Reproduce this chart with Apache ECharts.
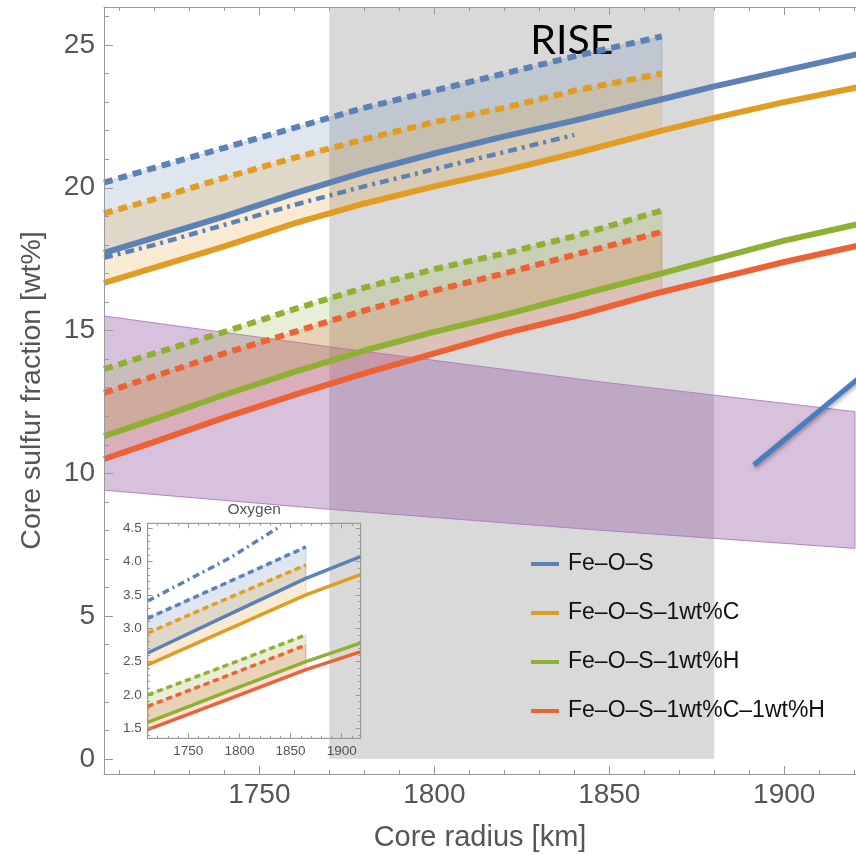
<!DOCTYPE html>
<html>
<head>
<meta charset="utf-8">
<script src="https://cdn.jsdelivr.net/npm/echarts@6/dist/echarts.min.js"></script>
<style>
html,body{margin:0;padding:0;background:#fff;}
#chart{width:856px;height:855px;}
</style>
</head>
<body>
<div id="chart"></div>
<script>
// ---------- DATA ----------
// Main panel: core radius (km)
const radiusFull  = [1705.6, 1720, 1740, 1760, 1780, 1800, 1820, 1840, 1865, 1880, 1900, 1921];
const radiusShort = [1705.6, 1720, 1740, 1760, 1780, 1800, 1820, 1840, 1865];
const radiusDashDot = [1705.6, 1720, 1740, 1760, 1780, 1800, 1820, 1840];

// Solid lines (full range), wt% S
const feoS      = [17.72, 18.25, 19.0, 19.8, 20.55, 21.2, 21.8, 22.35, 23.1, 23.55, 24.1, 24.68];
const feoSC     = [16.67, 17.2, 17.95, 18.75, 19.45, 20.05, 20.6, 21.2, 22.0, 22.45, 23.0, 23.52];
const feoSH     = [11.3, 11.9, 12.75, 13.55, 14.3, 14.95, 15.55, 16.2, 17.0, 17.5, 18.15, 18.72];
const feoSCH    = [10.5, 11.1, 11.95, 12.75, 13.5, 14.2, 14.9, 15.5, 16.35, 16.8, 17.4, 17.97];
// Dashed upper bounds (to 1865 km)
const feoSUp    = [20.18, 20.7, 21.4, 22.1, 22.8, 23.4, 24.0, 24.6, 25.3];
const feoSCUp   = [19.1, 19.6, 20.35, 21.05, 21.7, 22.3, 22.8, 23.4, 24.0];
const feoSHUp   = [13.65, 14.2, 14.95, 15.75, 16.5, 17.15, 17.7, 18.3, 19.2];
const feoSCHUp  = [12.82, 13.4, 14.2, 14.95, 15.7, 16.4, 17.0, 17.65, 18.45];
// Dash-dot (Fe-O-S)
const feoSDashDot = [17.55, 18.0, 18.7, 19.4, 20.05, 20.65, 21.25, 21.85];

// Purple constraint band
const purpleX      = [1705.6, 1770, 1847, 1920.2];
const purpleTop    = [15.51, 14.43, 13.21, 12.16];
const purpleBottom = [9.41, 8.74, 8.01, 7.37];

// Blue constraint segment
const segmentX = [1891.3, 1921];
const segmentY = [10.29, 13.3];

// RISE band
const riseRadius = [1770, 1880];
const riseSulfur = [0, 26.33];

// Axis ticks
const mainXTicks = [1750, 1800, 1850, 1900];
const mainXMinor = [1710,1720,1730,1740,1760,1770,1780,1790,1810,1820,1830,1840,1860,1870,1880,1890,1910,1920];
const mainYTicks = [0, 5, 10, 15, 20, 25];
const mainYMinor = [1,2,3,4,6,7,8,9,11,12,13,14,16,17,18,19,21,22,23,24,26];

// Inset (Oxygen)
const insetRadius      = [1710.3, 1790, 1865, 1919];
const insetRadiusShort = [1710.3, 1790, 1865];
const insetRadiusDD    = [1710.3, 1790, 1837];
const insetO     = [2.63, 3.21, 3.75, 4.08];
const insetOC    = [2.45, 2.99, 3.50, 3.81];
const insetOH    = [1.59, 2.06, 2.50, 2.78];
const insetOCH   = [1.48, 1.94, 2.38, 2.65];
const insetOUp   = [3.15, 3.70, 4.22];
const insetOCUp  = [2.93, 3.46, 3.95];
const insetOHUp  = [2.00, 2.46, 2.90];
const insetOCHUp = [1.83, 2.30, 2.75];
const insetODashDot = [3.41, 4.05, 4.5];
const insetXTicks = [1750, 1800, 1850, 1900];
const insetXMinor = [1720,1730,1740,1760,1770,1780,1790,1810,1820,1830,1840,1860,1870,1880,1890,1910];
const insetYTicks = [1.5, 2.0, 2.5, 3.0, 3.5, 4.0, 4.5];
const insetYMinor = [1.4,1.6,1.7,1.8,1.9,2.1,2.2,2.3,2.4,2.6,2.7,2.8,2.9,3.1,3.2,3.3,3.4,3.6,3.7,3.8,3.9,4.1,4.2,4.3,4.4];

const names = ['Fe\u2013O\u2013S', 'Fe\u2013O\u2013S\u20131wt%C', 'Fe\u2013O\u2013S\u20131wt%H', 'Fe\u2013O\u2013S\u20131wt%C\u20131wt%H'];
const colors = ['#5e81b5', '#e19c24', '#8fb032', '#eb6235'];

// ---------- CHART ----------
const FONT = "'Liberation Sans', Arial, Helvetica, sans-serif";
const AX = '#999';
const LBL = '#555';
const XMIN = 1705.6, XMAX = 1920.5, YMIN = -0.53, YMAX = 26.33;
const IXMIN = 1710.3, IXMAX = 1918.6, IYMIN = 1.35, IYMAX = 4.575;

function pairs(xs, ys) { return ys.map((y, i) => [xs[i], y]); }

function lineS(name, xs, ys, color, type, width, xi, yi, z) {
  return {
    type: 'line', name: name, data: pairs(xs, ys), xAxisIndex: xi, yAxisIndex: yi,
    showSymbol: false, symbol: 'none', silent: true, clip: true, z: z,
    lineStyle: { color: color, width: width, type: type, cap: 'butt', join: 'round' },
    itemStyle: { color: color }, emphasis: { disabled: true }
  };
}

function bandS(xs, lower, upper, fill, stroke, xi, yi, z) {
  return {
    type: 'custom', xAxisIndex: xi, yAxisIndex: yi, z: z, silent: true, clip: true,
    data: [[xs[0], lower[0]]],
    renderItem: function (params, api) {
      const pts = [];
      for (let i = 0; i < xs.length; i++) pts.push(api.coord([xs[i], upper[i]]));
      for (let i = xs.length - 1; i >= 0; i--) pts.push(api.coord([xs[i], lower[i]]));
      return { type: 'polygon', shape: { points: pts }, style: { fill: fill, stroke: stroke, lineWidth: 1 } };
    }
  };
}

function hexA(hex, a) {
  const r = parseInt(hex.slice(1, 3), 16), g = parseInt(hex.slice(3, 5), 16), b = parseInt(hex.slice(5, 7), 16);
  return 'rgba(' + r + ',' + g + ',' + b + ',' + a + ')';
}

const tickAxis = (grid, pos, min, max, ticks, len, showLine) => ({
  type: 'value', gridIndex: grid, position: pos, min: min, max: max, z: 20,
  axisLine: { show: showLine, onZero: false, lineStyle: { color: AX, width: 1 } },
  axisTick: { show: true, inside: true, length: len, customValues: ticks, lineStyle: { color: AX, width: 1 } },
  axisLabel: { show: false }, splitLine: { show: false }
});

const plain = v => String(v);

const xAxes = [
  {
    type: 'value', gridIndex: 0, position: 'bottom', min: XMIN, max: XMAX, z: 20,
    axisLine: { show: true, onZero: false, lineStyle: { color: AX, width: 1 } },
    axisTick: { show: true, inside: true, length: 8, customValues: mainXTicks, lineStyle: { color: AX } },
    axisLabel: { show: true, customValues: mainXTicks, formatter: plain, fontSize: 28, color: LBL, fontFamily: FONT, margin: 7 },
    splitLine: { show: false },
    name: 'Core radius [km]', nameLocation: 'middle', nameGap: 49,
    nameTextStyle: { fontSize: 29, color: LBL, fontFamily: FONT }
  },
  tickAxis(0, 'bottom', XMIN, XMAX, mainXMinor, 4, false),
  tickAxis(0, 'top', XMIN, XMAX, mainXTicks, 8, true),
  tickAxis(0, 'top', XMIN, XMAX, mainXMinor, 4, false),
  {
    type: 'value', gridIndex: 1, position: 'bottom', min: IXMIN, max: IXMAX, z: 20,
    axisLine: { show: true, onZero: false, lineStyle: { color: AX, width: 1 } },
    axisTick: { show: true, inside: true, length: 5, customValues: insetXTicks, lineStyle: { color: AX } },
    axisLabel: { show: true, customValues: insetXTicks, formatter: plain, fontSize: 13.5, color: LBL, fontFamily: FONT, margin: 6 },
    splitLine: { show: false }
  },
  tickAxis(1, 'bottom', IXMIN, IXMAX, insetXMinor, 2.5, false),
  Object.assign(tickAxis(1, 'top', IXMIN, IXMAX, insetXTicks, 5, true), {
    name: 'Oxygen', nameLocation: 'middle', nameGap: 6,
    nameTextStyle: { fontSize: 15.5, color: LBL, fontFamily: FONT }
  }),
  tickAxis(1, 'top', IXMIN, IXMAX, insetXMinor, 2.5, false)
];

const yAxes = [
  {
    type: 'value', gridIndex: 0, position: 'left', min: YMIN, max: YMAX, z: 20,
    axisLine: { show: true, onZero: false, lineStyle: { color: AX, width: 1 } },
    axisTick: { show: true, inside: true, length: 9, customValues: mainYTicks, lineStyle: { color: AX } },
    axisLabel: { show: true, customValues: mainYTicks, formatter: plain, fontSize: 28, color: LBL, fontFamily: FONT, margin: 9 },
    splitLine: { show: false },
    name: 'Core sulfur fraction [wt%]', nameLocation: 'middle', nameGap: 57, nameRotate: 90,
    nameTextStyle: { fontSize: 28.5, color: LBL, fontFamily: FONT }
  },
  tickAxis(0, 'left', YMIN, YMAX, mainYMinor, 5, false),
  {
    type: 'value', gridIndex: 1, position: 'left', min: IYMIN, max: IYMAX, z: 20,
    axisLine: { show: true, onZero: false, lineStyle: { color: AX, width: 1 } },
    axisTick: { show: true, inside: true, length: 5, customValues: insetYTicks, lineStyle: { color: AX } },
    axisLabel: { show: true, customValues: insetYTicks, fontSize: 13.5, color: LBL, fontFamily: FONT, margin: 6,
      formatter: v => Number(v).toFixed(1) },
    splitLine: { show: false }
  },
  tickAxis(1, 'left', IYMIN, IYMAX, insetYMinor, 2.5, false),
  tickAxis(1, 'right', IYMIN, IYMAX, insetYTicks, 5, true),
  tickAxis(1, 'right', IYMIN, IYMAX, insetYMinor, 2.5, false)
];

const series = [];

// RISE band (gray) with label
series.push({
  type: 'custom', xAxisIndex: 0, yAxisIndex: 0, z: 1, silent: true, clip: true,
  data: [[riseRadius[0], riseRadius[1], riseSulfur[0], riseSulfur[1]]],
  renderItem: function (params, api) {
    const p0 = api.coord([api.value(0), api.value(3)]);
    const p1 = api.coord([api.value(1), api.value(2)]);
    return {
      type: 'group', children: [
        { type: 'rect', shape: { x: p0[0], y: p0[1], width: p1[0] - p0[0], height: p1[1] - p0[1] },
          style: { fill: '#d9d9d9' } },
        { type: 'text', z2: 100, style: { text: 'RISE', x: (p0[0] + p1[0]) / 2 + 50, y: p0[1] + 34,
          fill: '#000', font: "41px Lato, 'Open Sans', sans-serif", align: 'center', verticalAlign: 'middle' } }
      ]
    };
  }
});

// Purple band
series.push(bandS(purpleX, purpleBottom, purpleTop, 'rgba(140,72,152,0.34)', 'rgba(175,120,195,0.9)', 0, 0, 2));

// Fill bands main
const mainSolid = [feoS, feoSC, feoSH, feoSCH];
const mainUp = [feoSUp, feoSCUp, feoSHUp, feoSCHUp];
for (let k = 0; k < 4; k++) {
  const n = radiusShort.length;
  series.push(bandS(radiusShort, mainSolid[k].slice(0, n), mainUp[k], hexA(colors[k], 0.2), hexA(colors[k], 0.3), 0, 0, 3));
}
// Solid lines
for (let k = 0; k < 4; k++) series.push(lineS(names[k], radiusFull, mainSolid[k], colors[k], 'solid', 6, 0, 0, 6));
// Dashed lines
for (let k = 0; k < 4; k++) series.push(lineS(names[k] + ' upper', radiusShort, mainUp[k], colors[k], [9, 6], 6, 0, 0, 5));
// Dash-dot
series.push(lineS('Fe-O-S dash-dot', radiusDashDot, feoSDashDot, colors[0], [9, 5, 3, 5], 4.5, 0, 0, 5));
// Blue segment
const seg = lineS('segment', segmentX, segmentY, '#4a7dc0', 'solid', 5, 0, 0, 7);
seg.lineStyle.shadowColor = 'rgba(0,0,0,0.35)';
seg.lineStyle.shadowBlur = 4;
seg.lineStyle.shadowOffsetX = 1;
seg.lineStyle.shadowOffsetY = 2;
series.push(seg);

// Inset
const insetSolid = [insetO, insetOC, insetOH, insetOCH];
const insetUp = [insetOUp, insetOCUp, insetOHUp, insetOCHUp];
for (let k = 0; k < 4; k++) {
  const n = insetRadiusShort.length;
  series.push(bandS(insetRadiusShort, insetSolid[k].slice(0, n), insetUp[k], hexA(colors[k], 0.2), hexA(colors[k], 0.3), 4, 2, 3));
}
for (let k = 0; k < 4; k++) series.push(lineS('inset ' + names[k], insetRadius, insetSolid[k], colors[k], 'solid', 3.5, 4, 2, 6));
for (let k = 0; k < 4; k++) series.push(lineS('inset up ' + names[k], insetRadiusShort, insetUp[k], colors[k], [6, 4], 3.5, 4, 2, 5));
series.push(lineS('inset dash-dot', insetRadiusDD, insetODashDot, colors[0], [7, 4, 2, 4], 3.5, 4, 2, 5));

const option = {
  animation: false,
  backgroundColor: '#fff',
  textStyle: { fontFamily: FONT },
  grid: [
    { left: 104, top: 7, width: 752, height: 767, containLabel: false, outerBoundsMode: 'none', show: false },
    { left: 147.7, top: 523.3, width: 213, height: 215, containLabel: false, outerBoundsMode: 'none', z: 20,
      show: true, backgroundColor: 'transparent', borderColor: AX, borderWidth: 1 }
  ],
  xAxis: xAxes,
  yAxis: yAxes,
  legend: {
    show: true, orient: 'vertical', left: 526, top: 547,
    data: names, icon: 'rect', itemWidth: 28, itemHeight: 4, itemGap: 25,
    textStyle: { fontSize: 23, color: '#111', fontFamily: FONT, lineHeight: 24, padding: [0, 0, 0, 4] },
    selectedMode: false
  },
  series: series
};

const chart = echarts.init(document.getElementById('chart'), null, { renderer: 'canvas' });
chart.setOption(option);
</script>
</body>
</html>
